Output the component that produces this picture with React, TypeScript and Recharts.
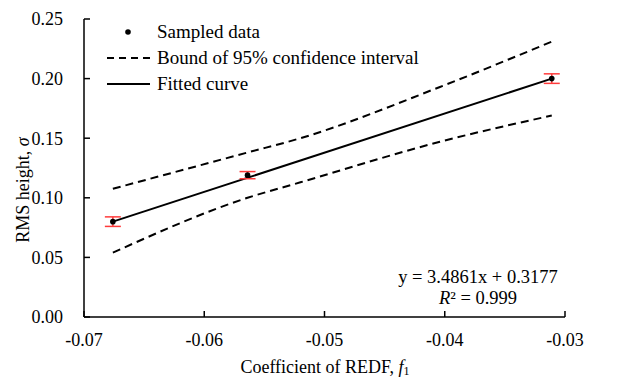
import React from "react";
import {
  ComposedChart,
  XAxis,
  YAxis,
  Line,
  Scatter,
  ErrorBar,
  Legend,
  Customized,
} from "recharts";

// ---- data ----
const sampleX = [-0.0676, -0.0564, -0.0311];
const sampleY = [0.08, 0.119, 0.2];
const sampleErr = [0.004, 0.003, 0.004];

const fitX = [-0.0676, -0.0311];
const fitY = [0.08, 0.2];

const bandX = [-0.0676, -0.0564, -0.052, -0.0404, -0.0311];
const upperY = [0.1076, 0.138, 0.15, 0.193, 0.231];
const lowerY = [0.054, 0.1, 0.113, 0.147, 0.169];

const xTicks = [-0.07, -0.06, -0.05, -0.04, -0.03];
const yTicks = [0, 0.05, 0.1, 0.15, 0.2, 0.25];

const legendLabels = [
  "Sampled data",
  "Bound of 95% confidence interval",
  "Fitted curve",
];
const equationText = "y = 3.4861x + 0.3177";
const r2Value = " = 0.999";

const samples = sampleX.map((x, i) => ({ x, y: sampleY[i], err: sampleErr[i] }));
const fitData = fitX.map((x, i) => ({ x, y: fitY[i] }));
const upperData = bandX.map((x, i) => ({ x, y: upperY[i] }));
const lowerData = bandX.map((x, i) => ({ x, y: lowerY[i] }));

const FONT = "'Liberation Serif', 'Times New Roman', serif";

const renderLegend = () => (
  <div style={{ fontFamily: FONT, fontSize: 19, color: "#000" }}>
    {legendLabels.map((label, i) => (
      <div
        key={label}
        style={{ display: "flex", alignItems: "center", height: 26, whiteSpace: "nowrap" }}
      >
        <svg width={45} height={26} style={{ display: "block" }}>
          {i === 0 && <circle cx={23} cy={13} r={2.8} fill="#000" />}
          {i === 1 && (
            <line x1={2} y1={13} x2={45} y2={13} stroke="#000" strokeWidth={2} strokeDasharray="7 5" />
          )}
          {i === 2 && <line x1={2} y1={13} x2={45} y2={13} stroke="#000" strokeWidth={2} />}
        </svg>
        <span style={{ marginLeft: 7, lineHeight: "26px" }}>{label}</span>
      </div>
    ))}
  </div>
);

const Annotations = () => (
  <g fontFamily={FONT} fill="#000">
    <text x={478} y={277} textAnchor="middle" dominantBaseline="central" fontSize={18.5}>
      {equationText}
    </text>
    <text x={478} y={298} textAnchor="middle" dominantBaseline="central" fontSize={18.5}>
      <tspan fontStyle="italic">R</tspan>
      <tspan>²</tspan>
      <tspan>{r2Value}</tspan>
    </text>
    <text x={325} y={367} textAnchor="middle" dominantBaseline="central" fontSize={18}>
      <tspan>Coefficient of REDF, </tspan>
      <tspan fontStyle="italic">f</tspan>
      <tspan fontSize={12} dy={4}>1</tspan>
    </text>
    <text
      x={23}
      y={190}
      textAnchor="middle"
      dominantBaseline="central"
      fontSize={18}
      transform="rotate(-90, 23, 190)"
    >
      <tspan>RMS height, </tspan>
      <tspan fontStyle="italic">σ</tspan>
    </text>
  </g>
);

export default function App() {
  return (
    <div style={{ position: "absolute", left: 0, top: 0, width: 617, height: 381, background: "#fff" }}>
      <ComposedChart
        width={617}
        height={381}
        margin={{ top: 19, right: 52, left: 0, bottom: 0 }}
      >
        <XAxis
          type="number"
          dataKey="x"
          domain={[-0.07, -0.03]}
          ticks={xTicks}
          tickFormatter={(v: number) => v.toFixed(2)}
          allowDataOverflow
          height={64}
          stroke="#000"
          strokeWidth={1.5}
          tickSize={-6}
          tickMargin={22}
          tick={{ fill: "#000", fontSize: 18, fontFamily: FONT }}
        />
        <YAxis
          type="number"
          dataKey="y"
          domain={[0, 0.25]}
          ticks={yTicks}
          tickFormatter={(v: number) => v.toFixed(2)}
          allowDataOverflow
          width={84}
          stroke="#000"
          strokeWidth={1.5}
          tickSize={-6}
          tickMargin={27}
          tick={{ fill: "#000", fontSize: 18, fontFamily: FONT }}
        />
        <Line
          data={upperData}
          dataKey="y"
          type="monotone"
          stroke="#000"
          strokeWidth={2}
          strokeDasharray="8 5"
          dot={false}
          activeDot={false}
          isAnimationActive={false}
          legendType="none"
        />
        <Line
          data={lowerData}
          dataKey="y"
          type="monotone"
          stroke="#000"
          strokeWidth={2}
          strokeDasharray="8 5"
          dot={false}
          activeDot={false}
          isAnimationActive={false}
          legendType="none"
        />
        <Line
          data={fitData}
          dataKey="y"
          type="linear"
          stroke="#000"
          strokeWidth={2}
          dot={false}
          activeDot={false}
          isAnimationActive={false}
          legendType="none"
        />
        <Scatter
          data={samples}
          dataKey="y"
          isAnimationActive={false}
          shape={(p: any) => <circle cx={p.cx} cy={p.cy} r={2.8} fill="#000" />}
        >
          <ErrorBar dataKey="err" direction="y" width={8} stroke="#ff3b3b" strokeWidth={1.5} />
        </Scatter>
        <Legend
          layout="vertical"
          align="center"
          verticalAlign="middle"
          wrapperStyle={{ left: 105, top: 19, width: 330 }}
          content={renderLegend}
        />
        <Customized component={Annotations} />
      </ComposedChart>
    </div>
  );
}
